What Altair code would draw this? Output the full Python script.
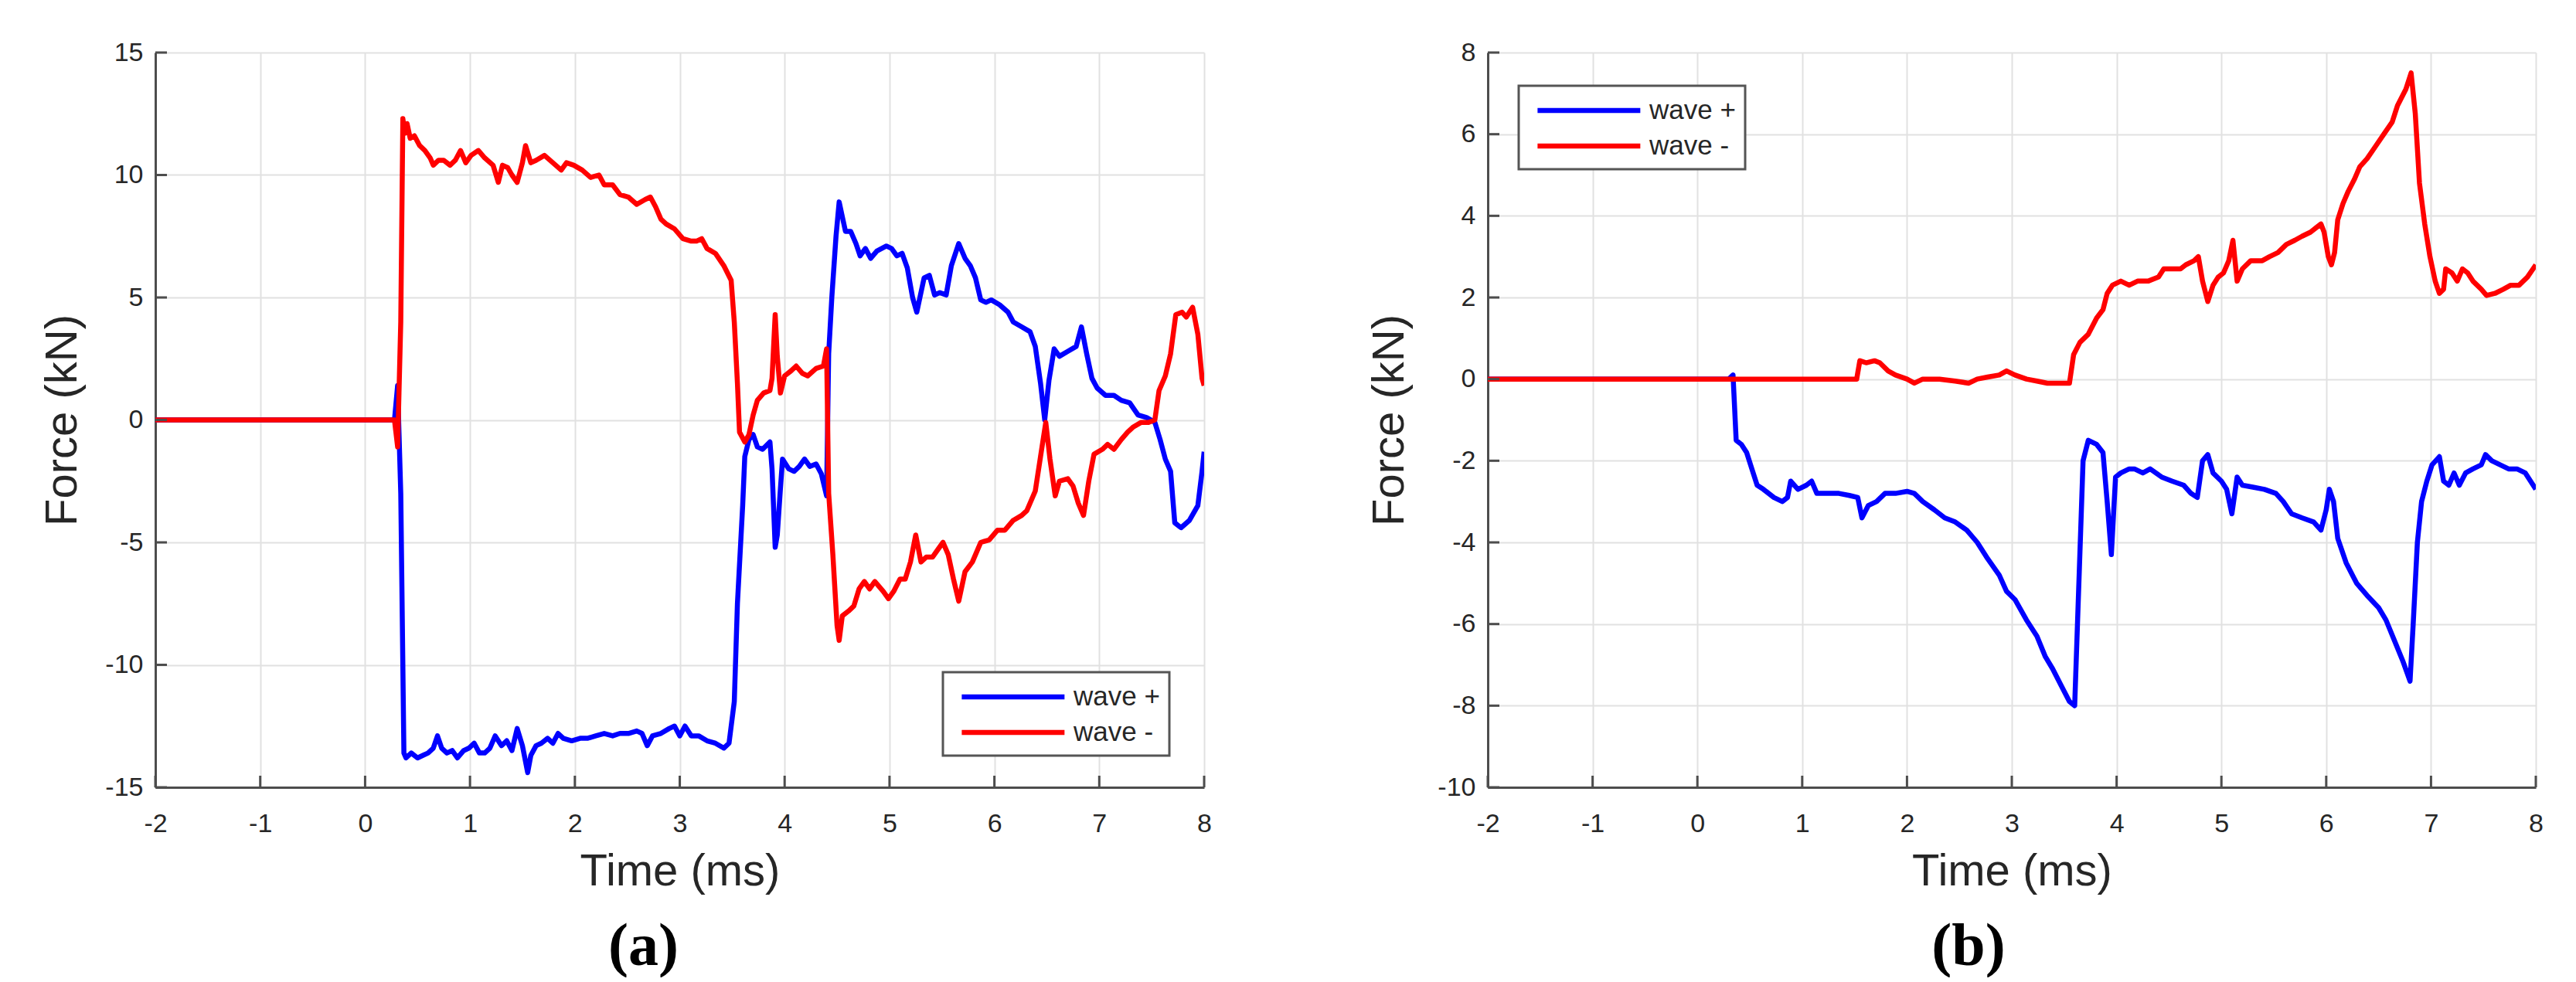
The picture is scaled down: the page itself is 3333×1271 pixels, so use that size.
import altair as alt
import pandas as pd

SERIES = ["wave +", "wave -"]
COLORS = ["#0000ff", "#ff0000"]
X_TICKS = [-2, -1, 0, 1, 2, 3, 4, 5, 6, 7, 8]
A_Y_TICKS = [-15, -10, -5, 0, 5, 10, 15]
B_Y_TICKS = [-10, -8, -6, -4, -2, 0, 2, 4, 6, 8]

# Panel (a): (time ms, force kN)
A_PLUS = [(-2, 0), (-1, 0), (0, 0), (0.28, 0), (0.31, 1.4), (0.34, -3.0), (0.37, -13.6), (0.39, -13.8),
          (0.44, -13.6), (0.50, -13.8), (0.55, -13.7), (0.60, -13.6), (0.65, -13.4), (0.69, -12.9),
          (0.73, -13.4), (0.78, -13.6), (0.83, -13.5), (0.88, -13.8), (0.94, -13.5), (0.99, -13.4),
          (1.04, -13.2), (1.09, -13.6), (1.14, -13.6), (1.19, -13.4), (1.24, -12.9), (1.30, -13.3),
          (1.35, -13.1), (1.40, -13.5), (1.45, -12.6), (1.50, -13.3), (1.55, -14.4), (1.58, -13.7),
          (1.63, -13.3), (1.68, -13.2), (1.74, -13.0), (1.79, -13.2), (1.84, -12.8), (1.89, -13.0),
          (1.97, -13.1), (2.05, -13.0), (2.12, -13.0), (2.20, -12.9), (2.28, -12.8), (2.36, -12.9),
          (2.43, -12.8), (2.51, -12.8), (2.59, -12.7), (2.64, -12.8), (2.69, -13.3), (2.74, -12.9),
          (2.82, -12.8), (2.90, -12.6), (2.95, -12.5), (3.00, -12.9), (3.05, -12.5), (3.11, -12.9),
          (3.18, -12.9), (3.26, -13.1), (3.34, -13.2), (3.42, -13.4), (3.47, -13.2), (3.52, -11.5),
          (3.55, -7.5), (3.60, -3.5), (3.62, -1.5), (3.66, -0.8), (3.70, -0.6), (3.74, -1.1),
          (3.79, -1.2), (3.86, -0.9), (3.88, -2.0), (3.91, -5.2), (3.93, -4.7), (3.96, -2.8),
          (3.98, -1.6), (4.04, -2.0), (4.09, -2.1), (4.14, -1.9), (4.19, -1.6), (4.24, -1.9),
          (4.30, -1.8), (4.35, -2.2), (4.40, -3.1), (4.42, 2.7), (4.45, 5.0), (4.49, 7.5),
          (4.52, 8.9), (4.55, 8.3), (4.58, 7.7), (4.63, 7.7), (4.68, 7.2), (4.72, 6.7), (4.77, 7.0),
          (4.82, 6.6), (4.88, 6.9), (4.97, 7.1), (5.02, 7.0), (5.07, 6.7), (5.12, 6.8), (5.17, 6.2),
          (5.22, 5.0), (5.26, 4.4), (5.33, 5.8), (5.38, 5.9), (5.43, 5.1), (5.48, 5.2), (5.54, 5.1),
          (5.59, 6.3), (5.66, 7.2), (5.72, 6.6), (5.77, 6.3), (5.82, 5.8), (5.87, 4.9), (5.92, 4.8),
          (5.97, 4.9), (6.05, 4.7), (6.13, 4.4), (6.18, 4.0), (6.26, 3.8), (6.34, 3.6), (6.39, 3.0),
          (6.44, 1.5), (6.48, 0.0), (6.52, 1.6), (6.57, 2.9), (6.62, 2.6), (6.70, 2.8), (6.78, 3.0),
          (6.83, 3.8), (6.88, 2.7), (6.93, 1.7), (6.98, 1.3), (7.06, 1.0), (7.14, 1.0), (7.21, 0.8),
          (7.29, 0.7), (7.37, 0.2), (7.45, 0.1), (7.53, -0.1), (7.58, -0.8), (7.63, -1.6),
          (7.68, -2.1), (7.72, -4.2), (7.78, -4.4), (7.86, -4.1), (7.94, -3.5), (7.98, -2.1),
          (8.0, -1.3)]

A_MINUS = [(-2, 0), (-1, 0), (0, 0), (0.28, 0), (0.31, -1.1), (0.34, 4.0), (0.36, 12.3), (0.38, 11.7),
           (0.40, 12.1), (0.43, 11.5), (0.47, 11.6), (0.52, 11.2), (0.57, 11.0), (0.62, 10.7),
           (0.65, 10.4), (0.70, 10.6), (0.75, 10.6), (0.81, 10.4), (0.86, 10.6), (0.91, 11.0),
           (0.96, 10.5), (1.01, 10.8), (1.08, 11.0), (1.14, 10.7), (1.22, 10.4), (1.27, 9.7),
           (1.31, 10.4), (1.36, 10.3), (1.40, 10.0), (1.45, 9.7), (1.50, 10.5), (1.53, 11.2),
           (1.58, 10.5), (1.63, 10.6), (1.71, 10.8), (1.79, 10.5), (1.87, 10.2), (1.92, 10.5),
           (1.99, 10.4), (2.07, 10.2), (2.15, 9.9), (2.23, 10.0), (2.28, 9.6), (2.36, 9.6),
           (2.43, 9.2), (2.51, 9.1), (2.59, 8.8), (2.67, 9.0), (2.72, 9.1), (2.77, 8.7), (2.82, 8.2),
           (2.87, 8.0), (2.95, 7.8), (3.03, 7.4), (3.11, 7.3), (3.16, 7.3), (3.21, 7.4), (3.26, 7.0),
           (3.34, 6.8), (3.42, 6.3), (3.49, 5.7), (3.52, 4.0), (3.55, 1.5), (3.57, -0.5),
           (3.62, -0.9), (3.66, -0.6), (3.70, 0.2), (3.74, 0.8), (3.80, 1.1), (3.86, 1.2),
           (3.88, 1.7), (3.91, 4.3), (3.93, 2.6), (3.96, 1.1), (4.00, 1.8), (4.06, 2.0), (4.11, 2.2),
           (4.17, 1.9), (4.22, 1.8), (4.30, 2.1), (4.37, 2.2), (4.40, 2.9), (4.42, -3.0),
           (4.46, -5.5), (4.50, -8.4), (4.52, -9.0), (4.55, -8.0), (4.61, -7.8), (4.66, -7.6),
           (4.71, -6.9), (4.76, -6.6), (4.81, -6.9), (4.86, -6.6), (4.94, -7.0), (4.99, -7.3),
           (5.04, -7.0), (5.10, -6.5), (5.15, -6.5), (5.20, -5.8), (5.25, -4.7), (5.30, -5.8),
           (5.35, -5.6), (5.41, -5.6), (5.46, -5.3), (5.51, -5.0), (5.56, -5.5), (5.61, -6.5),
           (5.66, -7.4), (5.72, -6.2), (5.79, -5.8), (5.87, -5.0), (5.95, -4.9), (6.03, -4.5),
           (6.10, -4.5), (6.18, -4.1), (6.26, -3.9), (6.31, -3.7), (6.39, -2.9), (6.44, -1.5),
           (6.49, -0.1), (6.53, -1.6), (6.58, -3.1), (6.62, -2.5), (6.70, -2.4), (6.75, -2.7),
           (6.80, -3.4), (6.85, -3.9), (6.90, -2.5), (6.95, -1.4), (7.03, -1.2), (7.08, -1.0),
           (7.14, -1.2), (7.21, -0.8), (7.27, -0.5), (7.32, -0.3), (7.40, -0.1), (7.47, -0.1),
           (7.53, 0.0), (7.57, 1.2), (7.63, 1.8), (7.68, 2.7), (7.73, 4.3), (7.79, 4.4), (7.83, 4.2),
           (7.89, 4.6), (7.94, 3.5), (7.98, 1.7), (8.0, 1.4)]

# Panel (b)
B_PLUS = [(-2, 0), (-1, 0), (0, 0), (0.30, 0), (0.34, 0.1), (0.37, -1.5), (0.42, -1.6), (0.47, -1.8),
          (0.52, -2.2), (0.57, -2.6), (0.63, -2.7), (0.68, -2.8), (0.73, -2.9), (0.81, -3.0),
          (0.86, -2.9), (0.89, -2.5), (0.96, -2.7), (1.04, -2.6), (1.09, -2.5), (1.14, -2.8),
          (1.25, -2.8), (1.35, -2.8), (1.45, -2.85), (1.53, -2.9), (1.57, -3.4), (1.63, -3.1),
          (1.71, -3.0), (1.79, -2.8), (1.89, -2.8), (2.00, -2.75), (2.07, -2.8), (2.15, -3.0),
          (2.26, -3.2), (2.36, -3.4), (2.46, -3.5), (2.57, -3.7), (2.67, -4.0), (2.77, -4.4),
          (2.88, -4.8), (2.95, -5.2), (3.03, -5.4), (3.14, -5.9), (3.24, -6.3), (3.32, -6.8),
          (3.39, -7.1), (3.47, -7.5), (3.55, -7.9), (3.60, -8.0), (3.64, -5.0), (3.68, -2.0),
          (3.73, -1.5), (3.81, -1.6), (3.87, -1.8), (3.91, -3.0), (3.95, -4.3), (3.99, -2.4),
          (4.04, -2.3), (4.12, -2.2), (4.17, -2.2), (4.25, -2.3), (4.32, -2.2), (4.43, -2.4),
          (4.53, -2.5), (4.64, -2.6), (4.71, -2.8), (4.77, -2.9), (4.82, -2.0), (4.87, -1.85),
          (4.92, -2.3), (5.00, -2.5), (5.05, -2.7), (5.10, -3.3), (5.15, -2.4), (5.20, -2.6),
          (5.31, -2.65), (5.41, -2.7), (5.52, -2.8), (5.59, -3.0), (5.67, -3.3), (5.77, -3.4),
          (5.88, -3.5), (5.95, -3.7), (6.00, -3.2), (6.03, -2.7), (6.07, -3.0), (6.11, -3.9),
          (6.19, -4.5), (6.29, -5.0), (6.39, -5.3), (6.50, -5.6), (6.57, -5.9), (6.65, -6.4),
          (6.73, -6.9), (6.80, -7.4), (6.83, -6.0), (6.87, -4.0), (6.91, -3.0), (6.96, -2.5),
          (7.01, -2.1), (7.08, -1.9), (7.12, -2.5), (7.17, -2.6), (7.22, -2.3), (7.27, -2.6),
          (7.33, -2.3), (7.40, -2.2), (7.48, -2.1), (7.52, -1.85), (7.58, -2.0), (7.66, -2.1),
          (7.74, -2.2), (7.82, -2.2), (7.90, -2.3), (7.95, -2.5), (8.0, -2.7)]

B_MINUS = [(-2, 0), (-1, 0), (0, 0), (1, 0), (1.52, 0.0), (1.55, 0.45), (1.61, 0.4), (1.69, 0.45),
           (1.74, 0.4), (1.82, 0.2), (1.89, 0.1), (2.00, 0.0), (2.07, -0.1), (2.15, 0.0), (2.31, 0.0),
           (2.46, -0.05), (2.59, -0.1), (2.67, 0.0), (2.77, 0.05), (2.88, 0.1), (2.95, 0.2),
           (3.03, 0.1), (3.14, 0.0), (3.24, -0.05), (3.34, -0.1), (3.45, -0.1), (3.55, -0.1),
           (3.59, 0.6), (3.65, 0.9), (3.73, 1.1), (3.81, 1.5), (3.87, 1.7), (3.91, 2.1), (3.96, 2.3),
           (4.04, 2.4), (4.12, 2.3), (4.20, 2.4), (4.30, 2.4), (4.40, 2.5), (4.45, 2.7), (4.53, 2.7),
           (4.61, 2.7), (4.66, 2.8), (4.74, 2.9), (4.78, 3.0), (4.82, 2.4), (4.87, 1.9), (4.92, 2.3),
           (4.97, 2.5), (5.02, 2.6), (5.07, 2.9), (5.11, 3.4), (5.15, 2.4), (5.20, 2.7), (5.28, 2.9),
           (5.39, 2.9), (5.46, 3.0), (5.54, 3.1), (5.62, 3.3), (5.70, 3.4), (5.77, 3.5), (5.85, 3.6),
           (5.90, 3.7), (5.95, 3.8), (5.98, 3.6), (6.02, 3.0), (6.05, 2.8), (6.08, 3.1), (6.11, 3.9),
           (6.16, 4.3), (6.21, 4.6), (6.27, 4.9), (6.32, 5.2), (6.39, 5.4), (6.47, 5.7), (6.55, 6.0),
           (6.63, 6.3), (6.68, 6.7), (6.76, 7.1), (6.81, 7.5), (6.85, 6.5), (6.89, 4.8), (6.94, 3.8),
           (6.99, 3.0), (7.04, 2.4), (7.08, 2.1), (7.12, 2.2), (7.14, 2.7), (7.20, 2.6), (7.25, 2.4),
           (7.30, 2.7), (7.35, 2.6), (7.40, 2.4), (7.48, 2.2), (7.53, 2.05), (7.61, 2.1), (7.69, 2.2),
           (7.76, 2.3), (7.84, 2.3), (7.92, 2.5), (8.0, 2.8)]

AXIS_COLOR = "#4d4d4d"
TEXT_COLOR = "#262626"
FONT = "Liberation Sans"

# legend swatch: a long horizontal stroke drawn as a custom symbol path
SWATCH_PATH = "M-1,0H7"
SWATCH_SIZE = 1105  # sqrt ~ 33 px -> swatch ~133 px long


def panel(plus, minus, yticks, ydom, w, h, leg_x, leg_y, label, label_dx, ytitle_x):
    rows = [(t, f, SERIES[0]) for t, f in plus] + [(t, f, SERIES[1]) for t, f in minus]
    df = pd.DataFrame(rows, columns=["t", "f", "series"])
    xs = alt.Scale(domain=[-2, 8], nice=False, zero=False)
    ys = alt.Scale(domain=ydom, nice=False, zero=False)
    xaxis = alt.Axis(values=X_TICKS, title="Time (ms)", titleY=80,
                     labelExpr="'' + datum.value", labelFlush=False,
                     labelOverlap=False, labelPadding=30)
    yaxis = alt.Axis(values=yticks, title="Force (kN)", titleX=ytitle_x,
                     labelExpr="'' + datum.value", labelFlush=False,
                     labelOverlap=False, labelPadding=16)

    lines = alt.Chart(df).mark_line(strokeWidth=6.5, strokeJoin="round", clip=True).encode(
        x=alt.X("t:Q", scale=xs, axis=xaxis),
        y=alt.Y("f:Q", scale=ys, axis=yaxis),
        color=alt.Color("series:N", sort=SERIES,
                        scale=alt.Scale(domain=SERIES, range=COLORS),
                        legend=alt.Legend(title=None, orient="none", legendX=leg_x, legendY=leg_y,
                                          fillColor="white", strokeColor="#555555", padding=12,
                                          symbolType=SWATCH_PATH, symbolSize=SWATCH_SIZE,
                                          symbolStrokeWidth=6.5, symbolOffset=9,
                                          labelFont=FONT, labelFontSize=35,
                                          labelColor=TEXT_COLOR, rowPadding=8, labelOffset=108)),
    )

    ytick_rules = alt.Chart(pd.DataFrame({"v": yticks})).mark_rule(
        color=AXIS_COLOR, strokeWidth=3).encode(
        y=alt.Y("v:Q", scale=ys, axis=yaxis), x=alt.value(0), x2=alt.value(15))
    xtick_rules = alt.Chart(pd.DataFrame({"v": X_TICKS})).mark_rule(
        color=AXIS_COLOR, strokeWidth=3).encode(
        x=alt.X("v:Q", scale=xs, axis=xaxis), y=alt.value(h), y2=alt.value(h - 15))

    return alt.layer(lines, ytick_rules, xtick_rules).properties(
        width=w, height=h,
        title=alt.TitleParams(text=label, orient="bottom", anchor="middle",
                              font="Liberation Serif", fontSize=78, fontWeight="bold",
                              color="black", dx=label_dx, offset=30),
    )


left = panel(A_PLUS, A_MINUS, A_Y_TICKS, [-15, 15], 1357, 951, 1019, 802, "(a)", -47, -91)
right = panel(B_PLUS, B_MINUS, B_Y_TICKS, [-10, 8], 1356, 951, 40, 43, "(b)", -56, -98)

chart = alt.hconcat(left, right, spacing=367, bounds="flush").resolve_scale(
    color="independent").resolve_legend(color="independent").properties(
    padding={"left": 44, "top": 43, "right": 0, "bottom": 0}, background="white"
).configure_view(stroke=None).configure_axis(
    labelFont=FONT, labelFontSize=34, labelColor=TEXT_COLOR,
    titleFont=FONT, titleFontSize=58, titleFontWeight="normal", titleColor=TEXT_COLOR,
    grid=True, gridColor="#e1e1e1", gridWidth=2,
    domainColor=AXIS_COLOR, domainWidth=3, ticks=False, tickSize=0,
).configure_legend(strokeWidth=3)

chart.save("out.html", embed_options={"renderer": "svg", "actions": False})
